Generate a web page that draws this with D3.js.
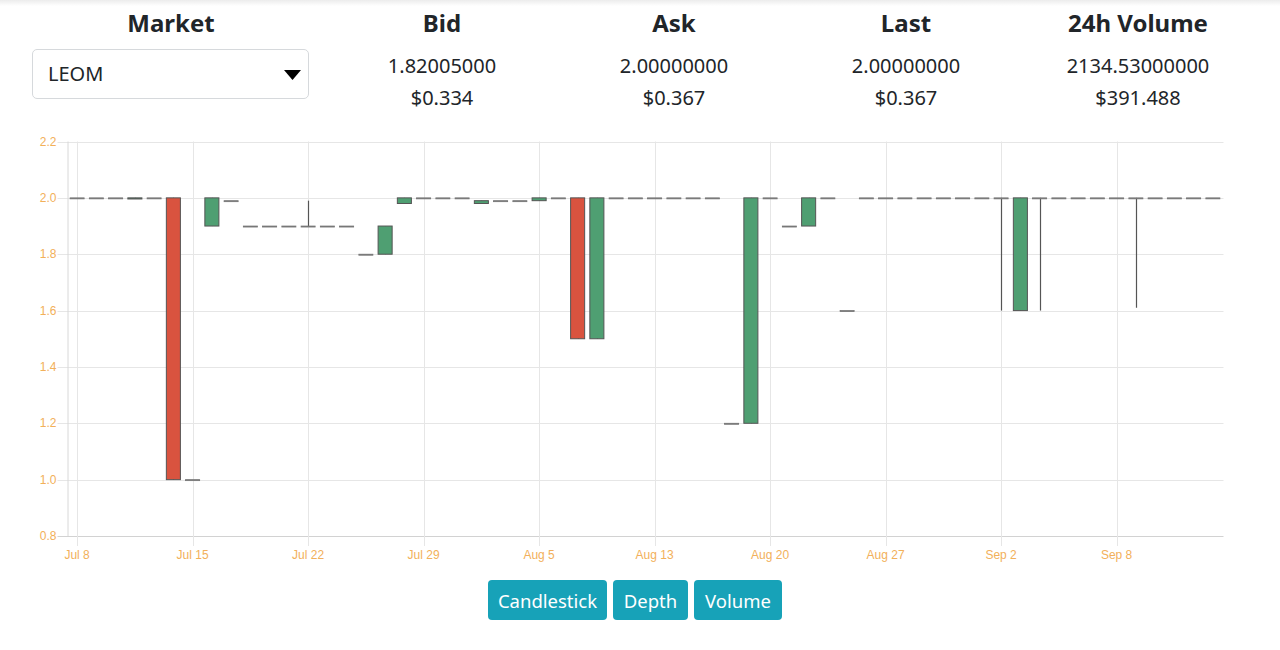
<!DOCTYPE html>
<html>
<head>
<meta charset="utf-8">
<script src="https://cdnjs.cloudflare.com/ajax/libs/d3/7.8.5/d3.min.js"></script>
<style>
body { margin: 0; width: 1280px; height: 650px; overflow: hidden; background: #fff; font-family: "Noto Sans", "Open Sans", sans-serif; color: #212529; }
#topshade { position: absolute; left: 0; top: 0; width: 1280px; height: 6px; background: linear-gradient(#ececec, #fff); }
.col { position: absolute; top: 0; text-align: center; }
.col h3 { margin: 0; font-size: 24px; font-weight: 700; line-height: 46px; }
.col p { margin: 0; font-size: 20px; line-height: 32px; }
#market { position: absolute; left: 32px; top: 49px; width: 275px; height: 48px; border: 1px solid #d6d9dc; border-radius: 5px; }
#market span { position: absolute; left: 15px; top: 10px; font-size: 20px; }
#market svg { position: absolute; left: 251px; top: 20px; }
.btn { position: absolute; top: 580px; height: 40px; background: #17a2b8; color: #fff; border-radius: 4px; font-size: 18.5px; line-height: 42px; text-align: center; }
#chart { position: absolute; left: 0; top: 0; }
</style>
</head>
<body>
<div id="topshade"></div>
<svg id="chart" width="1280" height="650"></svg>
<script>
//
// Data
//
var dayLabels = ["Jul 8", "Jul 15", "Jul 22", "Jul 29", "Aug 5", "Aug 13", "Aug 20", "Aug 27", "Sep 2", "Sep 8"];
var labelEvery = 6;
var opens  = [2.0, 2.0, 2.0, 1.996, 2.0, 2.0, 1.0, 1.9, 1.99, 1.9, 1.9, 1.9, 1.9, 1.9, 1.9, 1.8, 1.8, 1.98, 2.0, 2.0,
              2.0, 1.98, 1.99, 1.99, 1.99, 2.0, 2.0, 1.5, 2.0, 2.0, 2.0, 2.0, 2.0, 2.0, 1.2, 1.2, 2.0, 1.9, 1.9, 2.0,
              1.6, 2.0, 2.0, 2.0, 2.0, 2.0, 2.0, 2.0, 2.0, 1.6, 2.0, 2.0, 2.0, 2.0, 2.0, 2.0, 2.0, 2.0, 2.0, 2.0];
var closes = [2.0, 2.0, 2.0, 2.0, 2.0, 1.0, 1.0, 2.0, 1.99, 1.9, 1.9, 1.9, 1.9, 1.9, 1.9, 1.8, 1.9, 2.0, 2.0, 2.0,
              2.0, 1.99, 1.99, 1.99, 2.0, 2.0, 1.5, 2.0, 2.0, 2.0, 2.0, 2.0, 2.0, 2.0, 1.2, 2.0, 2.0, 1.9, 2.0, 2.0,
              1.6, 2.0, 2.0, 2.0, 2.0, 2.0, 2.0, 2.0, 2.0, 2.0, 2.0, 2.0, 2.0, 2.0, 2.0, 2.0, 2.0, 2.0, 2.0, 2.0];
var highs  = [2.0, 2.0, 2.0, 2.0, 2.0, 2.0, 1.0, 2.0, 1.99, 1.9, 1.9, 1.9, 1.99, 1.9, 1.9, 1.8, 1.9, 2.0, 2.0, 2.0,
              2.0, 1.99, 1.99, 1.99, 2.0, 2.0, 2.0, 2.0, 2.0, 2.0, 2.0, 2.0, 2.0, 2.0, 1.2, 2.0, 2.0, 1.9, 2.0, 2.0,
              1.6, 2.0, 2.0, 2.0, 2.0, 2.0, 2.0, 2.0, 2.0, 2.0, 2.0, 2.0, 2.0, 2.0, 2.0, 2.0, 2.0, 2.0, 2.0, 2.0];
var lows   = [2.0, 2.0, 2.0, 1.996, 2.0, 1.0, 1.0, 1.9, 1.99, 1.9, 1.9, 1.9, 1.9, 1.9, 1.9, 1.8, 1.8, 1.98, 2.0, 2.0,
              2.0, 1.98, 1.99, 1.99, 1.99, 2.0, 1.5, 1.5, 2.0, 2.0, 2.0, 2.0, 2.0, 2.0, 1.2, 1.2, 2.0, 1.9, 1.9, 2.0,
              1.6, 2.0, 2.0, 2.0, 2.0, 2.0, 2.0, 2.0, 1.6, 1.6, 1.6, 2.0, 2.0, 2.0, 2.0, 1.61, 2.0, 2.0, 2.0, 2.0];
var yTicks = [0.8, 1.0, 1.2, 1.4, 1.6, 1.8, 2.0, 2.2];

var headers = ["Bid", "Ask", "Last", "24h Volume"];
var prices  = ["1.82005000", "2.00000000", "2.00000000", "2134.53000000"];
var usd     = ["$0.334", "$0.367", "$0.367", "$391.488"];
var buttons = ["Candlestick", "Depth", "Volume"];

//
// Header
//
var body = d3.select("body");
var mk = body.append("div").attr("class", "col").style("left", "71px").style("width", "200px");
mk.append("h3").text("Market");
var sel = body.append("div").attr("id", "market");
sel.append("span").text("LEOM");
sel.append("svg").attr("width", 17).attr("height", 11)
	.append("path").attr("d", "M0,0 L17,0 L8.5,10 Z").attr("fill", "#000");

var colX = [442, 674, 906, 1138];
headers.forEach(function(h, i)
{
	var c = body.append("div").attr("class", "col")
		.style("left", (colX[i] - 110) + "px").style("width", "220px");
	c.append("h3").text(h);
	c.append("p").style("margin-top", "4px").text(prices[i]);
	c.append("p").text(usd[i]);
});

var btnX = [488, 613, 694], btnW = [119, 75, 88];
buttons.forEach(function(b, i)
{
	body.append("div").attr("class", "btn")
		.style("left", btnX[i] + "px").style("width", btnW[i] + "px").text(b);
});

//
// Chart
//
var plotL = 67.5, plotR = 1222.5, plotT = 141.5, plotB = 536;
var svg = d3.select("#chart");
var idx = d3.range(opens.length);

var x = d3.scaleBand().domain(idx).range([plotL, plotR]).paddingInner(0.27).paddingOuter(0.135);
var y = d3.scaleLinear().domain([0.8, 2.2]).range([plotB, plotT]);
var cx = function(i) { return x(i) + x.bandwidth() / 2; };

var tickIdx = dayLabels.map(function(d, i) { return i * labelEvery; });

var grid = svg.append("g");
grid.selectAll("line.h").data(yTicks).enter().append("line")
	.attr("x1", plotL - 10).attr("x2", plotR + 1)
	.attr("y1", function(d) { return Math.round(y(d)) + 0.5; })
	.attr("y2", function(d) { return Math.round(y(d)) + 0.5; })
	.attr("stroke", function(d) { return d == 0.8 ? "#d2d2d2" : "#e6e6e6"; });
grid.selectAll("line.v").data(tickIdx).enter().append("line")
	.attr("x1", function(d) { return Math.round(cx(d)) + 0.5; })
	.attr("x2", function(d) { return Math.round(cx(d)) + 0.5; })
	.attr("y1", plotT).attr("y2", plotB + 10)
	.attr("stroke", "#e6e6e6");
grid.append("line").attr("x1", plotL + 0.5).attr("x2", plotL + 0.5)
	.attr("y1", plotT).attr("y2", plotB).attr("stroke", "#d8d8d8");

svg.selectAll("text.yl").data(yTicks).enter().append("text")
	.attr("x", plotL - 11).attr("y", function(d) { return y(d) + 4; })
	.attr("text-anchor", "end")
	.attr("font-family", "Liberation Sans, Arial, sans-serif").attr("font-size", 12)
	.attr("fill", "#f2b05a")
	.text(function(d) { return d3.format(".1f")(d); });
svg.selectAll("text.xl").data(tickIdx).enter().append("text")
	.attr("x", function(d) { return cx(d); }).attr("y", plotB + 23)
	.attr("text-anchor", "middle")
	.attr("font-family", "Liberation Sans, Arial, sans-serif").attr("font-size", 12)
	.attr("fill", "#f2b05a")
	.text(function(d, i) { return dayLabels[i]; });

var candles = svg.append("g");
candles.selectAll("line.wick").data(idx).enter().append("line")
	.attr("x1", function(i) { return Math.round(cx(i)) + 0.5; })
	.attr("x2", function(i) { return Math.round(cx(i)) + 0.5; })
	.attr("y1", function(i) { return y(highs[i]); })
	.attr("y2", function(i) { return y(lows[i]); })
	.attr("stroke", "#555").attr("stroke-width", 1.2);
candles.selectAll("rect").data(idx).enter().append("rect")
	.attr("x", function(i) { return x(i); })
	.attr("width", x.bandwidth())
	.attr("y", function(i) { return y(Math.max(opens[i], closes[i])); })
	.attr("height", function(i) { return Math.max(1, Math.abs(y(opens[i]) - y(closes[i]))); })
	.attr("fill", function(i)
	{
		if (closes[i] == opens[i]) return "#777";
		return closes[i] > opens[i] ? "#4f9f72" : "#d9533f";
	})
	.attr("stroke", function(i) { return closes[i] == opens[i] ? "#777" : "#555"; })
	.attr("stroke-width", function(i) { return closes[i] == opens[i] ? 0.8 : 1; });
</script>
</body>
</html>
